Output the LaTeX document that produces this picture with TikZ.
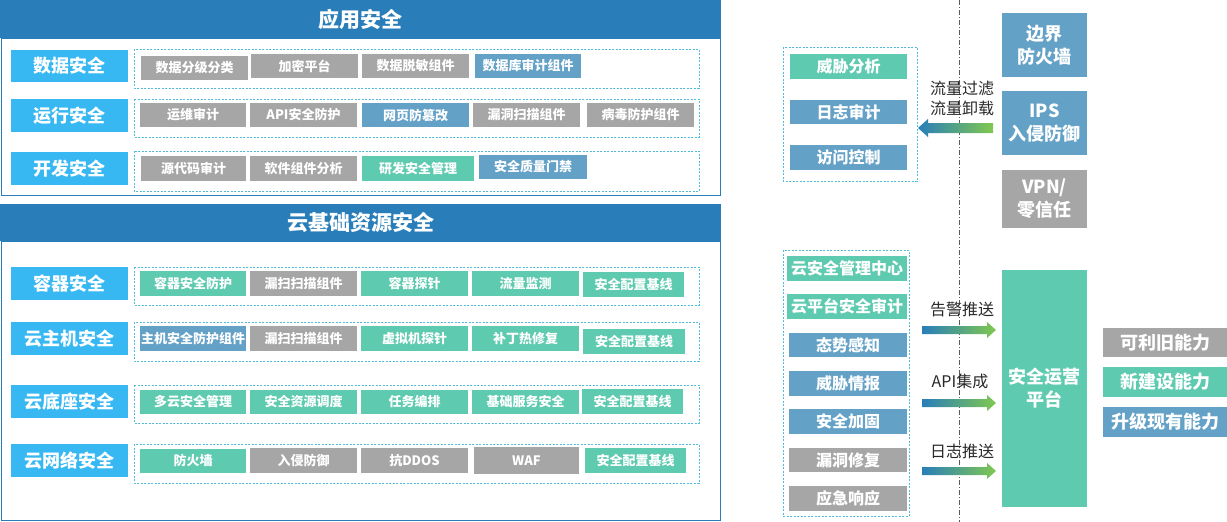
\documentclass[tikz,border=0pt]{standalone}
\usepackage{fontspec}
\setmainfont{Noto Sans CJK SC}
\usetikzlibrary{calc}
\definecolor{hdr}{RGB}{41,126,185}
\definecolor{lbl}{RGB}{55,184,242}
\definecolor{itgray}{RGB}{166,166,166}
\definecolor{itblue}{RGB}{100,161,199}
\definecolor{itgreen}{RGB}{94,202,176}
\definecolor{dashc}{RGB}{80,188,222}
\definecolor{gblue}{RGB}{41,126,185}
\definecolor{ggreen}{RGB}{128,200,80}
\definecolor{txtc}{RGB}{40,40,40}
\tikzset{
  base/.style={inner sep=0pt, outer sep=0pt, text=white, align=center},
  it/.style={base, font=\bfseries\fontsize{13}{13}\selectfont},
  itg/.style={it, fill=itgray},
  itb/.style={it, fill=itblue},
  itn/.style={it, fill=itgreen},
  md/.style={base, font=\bfseries\fontsize{16}{16}\selectfont},
  mdg/.style={md, fill=itgray},
  mdb/.style={md, fill=itblue},
  mdn/.style={md, fill=itgreen},
  lab/.style={base, fill=lbl, font=\bfseries\fontsize{18}{18}\selectfont},
  hdrbox/.style={base, fill=hdr, font=\bfseries\fontsize{21}{21}\selectfont},
  big/.style={base, font=\bfseries\fontsize{18}{23}\selectfont},
  bigb/.style={big, fill=itblue},
  bigg/.style={big, fill=itgray},
  bign/.style={big, fill=itgreen},
  outerbox/.style={draw=hdr, line width=1pt},
  dbox/.style={draw=dashc, line width=0.8pt, dash pattern=on 2pt off 1.5pt},
  arrtxt/.style={inner sep=0pt, text=txtc, align=center, font=\fontsize{16}{20}\selectfont},
}
\newcommand\mybox[7]{\node[#6, minimum width={(#4-#2)*1pt}, minimum height={(#5-#3)*1pt}] (#1) at ({(#2+#4)/2},{(#3+#5)/2}) {#7};}
\newcommand\garrowR[4]{\shade[left color=gblue,right color=ggreen] ($(#1)+(0,#3)$) -- ($(#2)+(-9,#3)$) -- ($(#2)+(-9,#4)$) -- (#2) -- ($(#2)+(-9,-#4)$) -- ($(#2)+(-9,-#3)$) -- ($(#1)+(0,-#3)$) -- cycle;}
\newcommand\garrowL[4]{\shade[left color=gblue,right color=ggreen] ($(#1)+(0,#3)$) -- ($(#2)+(10,#3)$) -- ($(#2)+(10,#4)$) -- (#2) -- ($(#2)+(10,-#4)$) -- ($(#2)+(10,-#3)$) -- ($(#1)+(0,-#3)$) -- cycle;}
\begin{document}
\begin{tikzpicture}[x=1pt,y=-1pt]
\useasboundingbox (0,0) rectangle (1227,522);
% ---------- 应用安全 ----------
\draw[outerbox] (1,38) rectangle (720,195);
\mybox{h1}{0}{0}{721}{38}{hdrbox}{应用安全}
\mybox{l1}{11}{50}{128}{82}{lab}{数据安全}
\mybox{l2}{11}{99}{128}{132}{lab}{运行安全}
\mybox{l3}{11}{152}{128}{185}{lab}{开发安全}
\draw[dbox] (134,49) rectangle (699,88);
\draw[dbox] (134,99) rectangle (699,137);
\draw[dbox] (134,151) rectangle (699,191);
\mybox{a11}{141}{56}{248}{80}{itg}{数据分级分类}
\mybox{a12}{251}{54}{358}{78}{itg}{加密平台}
\mybox{a13}{362}{54}{469}{78}{itg}{数据脱敏组件}
\mybox{a14}{475}{54}{581}{78}{itb}{数据库审计组件}
\mybox{a21}{140}{103}{246}{127}{itg}{运维审计}
\mybox{a22}{250}{103}{357}{127}{itg}{API安全防护}
\mybox{a23}{362}{103}{469}{127}{itb}{网页防篡改}
\mybox{a24}{473}{103}{580}{127}{itg}{漏洞扫描组件}
\mybox{a25}{587}{103}{694}{127}{itg}{病毒防护组件}
\mybox{a31}{141}{156}{246}{181}{itg}{源代码审计}
\mybox{a32}{250}{156}{357}{181}{itg}{软件组件分析}
\mybox{a33}{362}{156}{474}{181}{itn}{研发安全管理}
\mybox{a34}{479}{155}{587}{179}{itb}{安全质量门禁}
% ---------- 云基础资源安全 ----------
\draw[outerbox] (1,241) rectangle (720,520);
\mybox{h2}{0}{204}{721}{241}{hdrbox}{云基础资源安全}
\mybox{l4}{11}{267}{128}{300}{lab}{容器安全}
\mybox{l5}{11}{322}{128}{355}{lab}{云主机安全}
\mybox{l6}{11}{385}{128}{418}{lab}{云底座安全}
\mybox{l7}{11}{444}{128}{477}{lab}{云网络安全}
\draw[dbox] (134,267) rectangle (699,305);
\draw[dbox] (134,322) rectangle (699,361);
\draw[dbox] (134,385) rectangle (699,423);
\draw[dbox] (134,444) rectangle (699,483);
\mybox{b11}{140}{271}{246}{296}{itn}{容器安全防护}
\mybox{b12}{250}{271}{357}{296}{itg}{漏扫扫描组件}
\mybox{b13}{361}{271}{468}{296}{itn}{容器探针}
\mybox{b14}{472}{271}{579}{296}{itn}{流量监测}
\mybox{b15}{583}{272}{684}{297}{itn}{安全配置基线}
\mybox{b21}{140}{326}{246}{351}{itb}{主机安全防护组件}
\mybox{b22}{250}{326}{357}{351}{itg}{漏扫扫描组件}
\mybox{b23}{361}{326}{468}{351}{itn}{虚拟机探针}
\mybox{b24}{472}{326}{579}{351}{itn}{补丁热修复}
\mybox{b25}{583}{329}{685}{354}{itn}{安全配置基线}
\mybox{b31}{140}{390}{246}{414}{itn}{多云安全管理}
\mybox{b32}{250}{390}{357}{414}{itn}{安全资源调度}
\mybox{b33}{361}{390}{468}{414}{itn}{任务编排}
\mybox{b34}{472}{390}{579}{414}{itn}{基础服务安全}
\mybox{b35}{582}{389}{683}{414}{itn}{安全配置基线}
\mybox{b41}{140}{449}{246}{473}{itn}{防火墙}
\mybox{b42}{250}{448}{357}{473}{itg}{入侵防御}
\mybox{b43}{361}{448}{468}{473}{itg}{抗DDOS}
\mybox{b44}{474}{447}{579}{474}{itg}{WAF}
\mybox{b45}{585}{448}{686}{473}{itn}{安全配置基线}
% ---------- right part ----------
\coordinate (vtop) at (959,0);
\coordinate (vbot) at (959,522);
\draw[black!65, line width=1pt, dash pattern=on 5pt off 2pt on 1pt off 2pt] (vtop) -- (vbot);
\draw[dbox] (783,47) rectangle (917,181);
\mybox{c1}{790}{54}{907}{79}{mdn}{威胁分析}
\mybox{c2}{790}{100}{907}{124}{mdb}{日志审计}
\mybox{c3}{790}{145}{907}{170}{mdb}{访问控制}
\mybox{r1}{1002}{13}{1087}{77}{bigb}{边界\\防火墙}
\mybox{r2}{1002}{91}{1087}{155}{bigb}{IPS\\入侵防御}
\mybox{r3}{1002}{170}{1087}{228}{bigg}{VPN/\\零信任}
\coordinate (t1s) at (993,128);
\coordinate (t1e) at (918,128);
\garrowL{t1s}{t1e}{5}{9}
\node[arrtxt] (t1l) at (962,98) {流量过滤\\流量卸载};
\draw[dbox] (783,250) rectangle (909,516);
\mybox{d1}{787}{256}{907}{281}{mdn}{云安全管理中心}
\mybox{d2}{787}{294}{907}{319}{mdn}{云平台安全审计}
\mybox{d3}{789}{333}{907}{357}{mdb}{态势感知}
\mybox{d4}{789}{371}{907}{396}{mdb}{威胁情报}
\mybox{d5}{789}{409}{907}{434}{mdb}{安全加固}
\mybox{d6}{789}{448}{907}{472}{mdg}{漏洞修复}
\mybox{d7}{789}{486}{907}{511}{mdg}{应急响应}
\mybox{p}{1002}{270}{1087}{507}{bign}{安全运营\\平台}
\coordinate (s1) at (922,330); \coordinate (e1) at (996,330);
\coordinate (s2) at (922,403); \coordinate (e2) at (996,403);
\coordinate (s3) at (922,471); \coordinate (e3) at (996,471);
\garrowR{s1}{e1}{4}{8}
\garrowR{s2}{e2}{4}{8}
\garrowR{s3}{e3}{4}{8}
\node[arrtxt] (k1) at (962,309) {告警推送};
\node[arrtxt] (k2) at (960,381) {API集成};
\node[arrtxt] (k3) at (962,451) {日志推送};
\mybox{e1b}{1103}{328}{1227}{357}{bigg}{可利旧能力}
\mybox{e2b}{1103}{367}{1227}{397}{bign}{新建设能力}
\mybox{e3b}{1103}{407}{1227}{437}{bigb}{升级现有能力}
\end{tikzpicture}
\end{document}
